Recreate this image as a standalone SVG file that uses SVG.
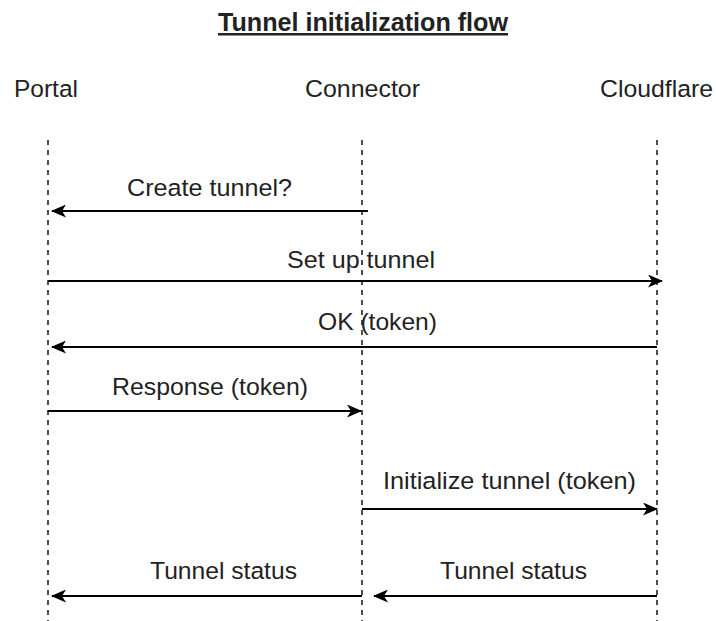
<svg xmlns="http://www.w3.org/2000/svg" width="716" height="621" viewBox="0 0 716 621">
<defs>
<marker id="arr" viewBox="0 0 15 13" refX="14" refY="6.5" markerWidth="15" markerHeight="13" markerUnits="userSpaceOnUse" orient="auto">
<path d="M0,0 L15,6.5 L0,13 L4,6.5 Z" fill="#000"/>
</marker>
</defs>
<style>
.t{font-family:"Liberation Sans",Arial,sans-serif;fill:#222;text-anchor:middle}
.h{font-size:24.5px}
.l{font-size:24.5px}
.life{stroke:#222;stroke-width:1.6;stroke-dasharray:5 5;fill:none}
.msg{stroke:#000;stroke-width:2;fill:none;marker-end:url(#arr)}
</style>
<rect width="716" height="621" fill="#fff"/>
<g id="title"><text class="t" x="363" y="31" font-size="25" font-weight="bold" text-decoration="underline" textLength="290" lengthAdjust="spacingAndGlyphs">Tunnel initialization flow</text></g>
<g id="portal"><text class="t h" x="46" y="97" textLength="64" lengthAdjust="spacingAndGlyphs">Portal</text><line class="life" x1="48" y1="140" x2="48" y2="621"/></g>
<g id="connector"><text class="t h" x="362.5" y="97" textLength="115" lengthAdjust="spacingAndGlyphs">Connector</text><line class="life" x1="362" y1="140" x2="362" y2="621"/></g>
<g id="cloudflare"><text class="t h" x="656.5" y="97" textLength="113" lengthAdjust="spacingAndGlyphs">Cloudflare</text><line class="life" x1="657" y1="140" x2="657" y2="621"/></g>
<g id="connectors">
<line class="msg" x1="368" y1="211" x2="52" y2="211"/>
<text class="t l" x="209.5" y="196" textLength="165" lengthAdjust="spacingAndGlyphs">Create tunnel?</text>
<line class="msg" x1="48" y1="281" x2="662" y2="281"/>
<text class="t l" x="361" y="268" textLength="148" lengthAdjust="spacingAndGlyphs">Set up tunnel</text>
<line class="msg" x1="657" y1="347" x2="52" y2="347"/>
<text class="t l" x="377.5" y="330" textLength="119" lengthAdjust="spacingAndGlyphs">OK (token)</text>
<line class="msg" x1="48" y1="411" x2="361" y2="411"/>
<text class="t l" x="210" y="395" textLength="196" lengthAdjust="spacingAndGlyphs">Response (token)</text>
<line class="msg" x1="362" y1="509" x2="657" y2="509"/>
<text class="t l" x="509.5" y="489" textLength="253" lengthAdjust="spacingAndGlyphs">Initialize tunnel (token)</text>
<line class="msg" x1="362" y1="596" x2="52" y2="596"/>
<text class="t l" x="223.5" y="579" textLength="147" lengthAdjust="spacingAndGlyphs">Tunnel status</text>
<line class="msg" x1="657" y1="596" x2="374" y2="596"/>
<text class="t l" x="513.5" y="579" textLength="147" lengthAdjust="spacingAndGlyphs">Tunnel status</text>
</g>
</svg>
